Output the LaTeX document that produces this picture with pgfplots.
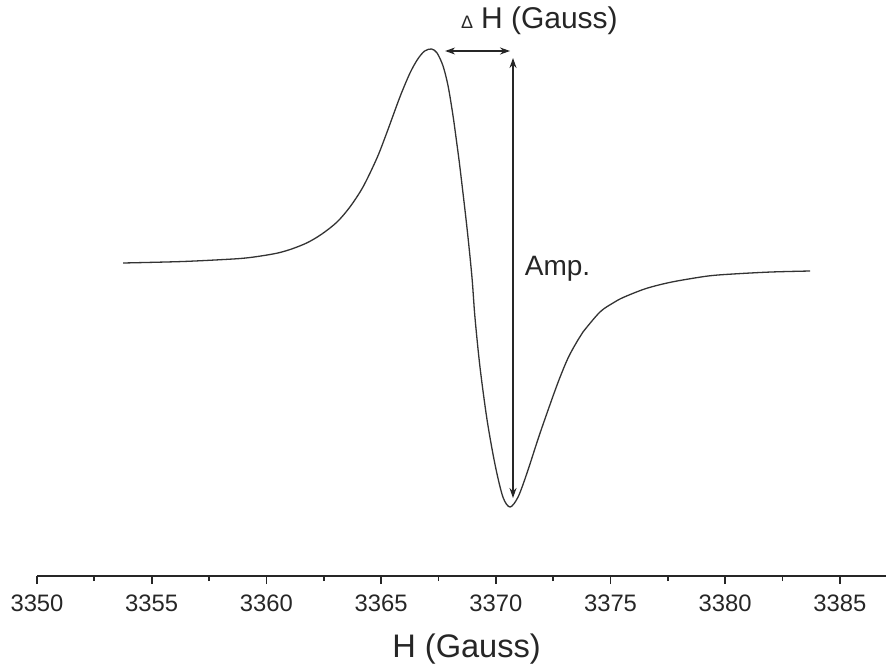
\documentclass[border=0pt]{standalone}
\usepackage{fontspec}
\setmainfont{Liberation Sans}
\usepackage{pgfplots}
\pgfplotsset{compat=1.18}
\usetikzlibrary{arrows.meta}

\begin{document}
\begin{tikzpicture}
\begin{axis}[
  name=ax, at={(0,0)}, anchor=south west,
  scale only axis, width=424.5pt, height=288pt,
  xmin=3350, xmax=3387.01, ymin=-309, ymax=267,
  axis x line*=bottom, axis y line=none,
  xtick={3350,3355,...,3385}, minor x tick num=1,
  tick align=outside, major tick length=4pt, minor tick length=2.5pt,
  x axis line style={line width=0.9pt, black!85},
  every tick/.style={line width=0.9pt, black!85},
  /pgf/number format/assume math mode=true,
  /pgf/number format/1000 sep={},
  xticklabel style={font=\fontsize{11.9}{14}\selectfont, text=black!85, yshift=-2pt},
  xlabel={H (Gauss)},
  xlabel style={at={(axis description cs:0.506,-0.127)}, anchor=center, font=\fontsize{16.3}{19}\selectfont, text=black!85},
  clip=false,
]
\addplot[line width=0.65pt, black!80, smooth] coordinates {
(3353.75,4) (3356.36,5.5) (3358.54,8) (3359.29,9.5) (3360.03,12) (3360.59,14.5)
(3361.16,18.5) (3361.80,24.5) (3362.42,33) (3363.08,45) (3363.64,60) (3364.21,80)
(3364.82,109) (3365.26,135) (3365.82,170) (3366.26,194) (3366.60,208) (3366.90,216)
(3367.20,218) (3367.44,214) (3367.70,201) (3367.92,181) (3368.13,152) (3368.31,122) (3368.44,99)
(3368.74,40) (3368.96,-10) (3369.09,-50) (3369.31,-100) (3369.62,-153) (3369.97,-198)
(3370.31,-230) (3370.62,-240) (3370.97,-230) (3371.36,-206) (3371.93,-166) (3372.67,-118)
(3373.15,-91) (3373.58,-73) (3373.80,-65) (3374.54,-45) (3375.11,-36) (3375.55,-30.5)
(3376.42,-22.5) (3377.10,-18) (3377.90,-14) (3379.25,-9) (3380.34,-7) (3382.00,-5) (3383.70,-4)
};
\draw[{Stealth[length=5pt,width=3.5pt]}-{Stealth[length=5pt,width=3.5pt]}, line width=0.6pt, black!85]
  (axis cs:3367.79,216) -- (axis cs:3370.62,216);
\draw[{Stealth[length=5pt,width=3.5pt]}-{Stealth[length=5pt,width=3.5pt]}, line width=0.6pt, black!85]
  (axis cs:3370.75,209) -- (axis cs:3370.75,-231);
\node[anchor=west, inner sep=0pt, font=\fontsize{14}{16}\selectfont, text=black!85] at (axis cs:3371.25,-2) {Amp.};
\node[anchor=center, inner sep=0pt, font=\fontsize{15}{17}\selectfont, text=black!85] at (axis cs:3371.90,246) {{\fontsize{9}{10}\selectfont Δ}\hspace{4pt}H (Gauss)};
\end{axis}
\pgfresetboundingbox
\path (-18.5pt,-44.5pt) rectangle (424.5pt,288pt);
\end{tikzpicture}
\end{document}
